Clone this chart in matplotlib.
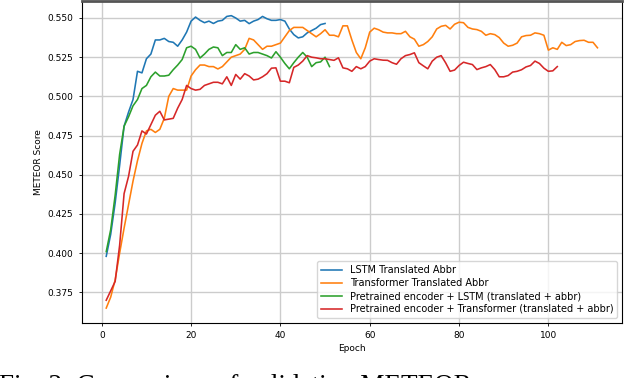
import matplotlib
matplotlib.use("agg")
import matplotlib.pyplot as plt
import numpy as np

# validation METEOR per epoch
lstm_abbr = [0.398, 0.412, 0.432, 0.456, 0.481, 0.490, 0.498, 0.516, 0.515, 0.524,
             0.527, 0.536, 0.536, 0.537, 0.535, 0.5345, 0.532, 0.536, 0.541, 0.548,
             0.5506, 0.5485, 0.547, 0.548, 0.5465, 0.548, 0.5485, 0.551, 0.5515, 0.550,
             0.548, 0.5485, 0.5464, 0.548, 0.549, 0.551, 0.5495, 0.5485, 0.5485, 0.549,
             0.548, 0.543, 0.5394, 0.5373, 0.538, 0.5405, 0.542, 0.5435, 0.5458, 0.5465]

transformer_abbr = [0.365, 0.372, 0.383, 0.400, 0.416, 0.431, 0.446, 0.459, 0.470, 0.478,
                    0.479, 0.477, 0.479, 0.486, 0.500, 0.505, 0.504, 0.504, 0.504, 0.513,
                    0.517, 0.520, 0.520, 0.519, 0.519, 0.5175, 0.519, 0.522, 0.525, 0.526,
                    0.527, 0.530, 0.537, 0.536, 0.533, 0.530, 0.532, 0.532, 0.533, 0.534,
                    0.538, 0.542, 0.544, 0.544, 0.544, 0.542, 0.540, 0.538, 0.540, 0.5425,
                    0.539, 0.539, 0.538, 0.545, 0.545, 0.536, 0.528, 0.524, 0.531, 0.541,
                    0.5435, 0.5425, 0.541, 0.5405, 0.5405, 0.540, 0.540, 0.5415, 0.538, 0.5365,
                    0.532, 0.533, 0.535, 0.538, 0.543, 0.5447, 0.5453, 0.543, 0.546, 0.5473,
                    0.547, 0.544, 0.543, 0.5426, 0.5415, 0.539, 0.540, 0.5394, 0.5375, 0.534,
                    0.532, 0.5326, 0.534, 0.538, 0.5388, 0.539, 0.5405, 0.540, 0.539, 0.5295,
                    0.531, 0.530, 0.5345, 0.5324, 0.533, 0.535, 0.5356, 0.5358, 0.5345, 0.5345,
                    0.531]

pre_lstm = [0.401, 0.415, 0.437, 0.463, 0.481, 0.487, 0.494, 0.498, 0.505, 0.507,
            0.5125, 0.5155, 0.513, 0.513, 0.5135, 0.517, 0.520, 0.5235, 0.531, 0.532,
            0.530, 0.5245, 0.527, 0.530, 0.5315, 0.531, 0.526, 0.528, 0.528, 0.533,
            0.530, 0.531, 0.527, 0.528, 0.528, 0.527, 0.526, 0.5245, 0.5285, 0.525,
            0.521, 0.5176, 0.5215, 0.525, 0.528, 0.525, 0.519, 0.5215, 0.522, 0.525,
            0.519]

pre_transformer = [0.370, 0.376, 0.382, 0.405, 0.438, 0.449, 0.465, 0.469, 0.478, 0.476,
                   0.482, 0.488, 0.4905, 0.485, 0.4855, 0.486, 0.4925, 0.498, 0.507, 0.505,
                   0.504, 0.5045, 0.507, 0.508, 0.509, 0.509, 0.508, 0.5125, 0.507, 0.514,
                   0.511, 0.5145, 0.513, 0.5105, 0.511, 0.5125, 0.5145, 0.518, 0.5182, 0.5097,
                   0.5097, 0.5087, 0.5185, 0.520, 0.5225, 0.526, 0.525, 0.5246, 0.524, 0.524,
                   0.5235, 0.523, 0.5246, 0.5182, 0.5176, 0.516, 0.519, 0.5176, 0.519, 0.5225,
                   0.524, 0.5235, 0.5231, 0.523, 0.5215, 0.5205, 0.524, 0.526, 0.5267, 0.5278,
                   0.5215, 0.5195, 0.5176, 0.5225, 0.525, 0.526, 0.5214, 0.516, 0.5168, 0.5197,
                   0.5218, 0.521, 0.5203, 0.5171, 0.5182, 0.519, 0.5203, 0.5171, 0.5125, 0.5125,
                   0.5133, 0.5155, 0.516, 0.517, 0.5188, 0.5197, 0.5225, 0.521, 0.518, 0.516,
                   0.5163, 0.519]

labels = ["LSTM Translated Abbr",
          "Transformer Translated Abbr",
          "Pretrained encoder + LSTM (translated + abbr)",
          "Pretrained encoder + Transformer (translated + abbr)"]

fs = 6.5

fig = plt.figure(figsize=(6.38, 3.78), dpi=100)
ax = fig.add_axes([0.128, 0.1463, 0.847, 0.851])

for series, lab in zip([lstm_abbr, transformer_abbr, pre_lstm, pre_transformer], labels):
    ax.plot(np.arange(1, len(series) + 1), series, label=lab, linewidth=1.15)

ax.grid(True, color="#cccccc", linewidth=1.0)
ax.set_axisbelow(True)
ax.set_xlabel("Epoch", fontsize=fs, labelpad=3)
ax.set_ylabel("METEOR Score", fontsize=fs, labelpad=3)
ax.tick_params(labelsize=fs, length=2.5, width=0.6)
ax.set_yticks([0.375, 0.400, 0.425, 0.450, 0.475, 0.500, 0.525, 0.550])
ax.yaxis.set_major_formatter(matplotlib.ticker.FormatStrFormatter("%.3f"))
for s in ax.spines.values():
    s.set_linewidth(0.8)
ax.spines["top"].set_color("#555555")
ax.spines["top"].set_linewidth(2.0)

ax.legend(loc="lower right", fontsize=7, handlelength=2.2, borderpad=0.4,
          labelspacing=0.3, framealpha=0.8)

# caption of the paper figure, cut off at the bottom edge
fig.text(-0.002, -0.039, "Fig. 2: Comparison of validation METEOR scores across models",
         fontsize=19.5, family="Liberation Serif", va="baseline", ha="left")

fig.savefig("out.png", dpi=100)
